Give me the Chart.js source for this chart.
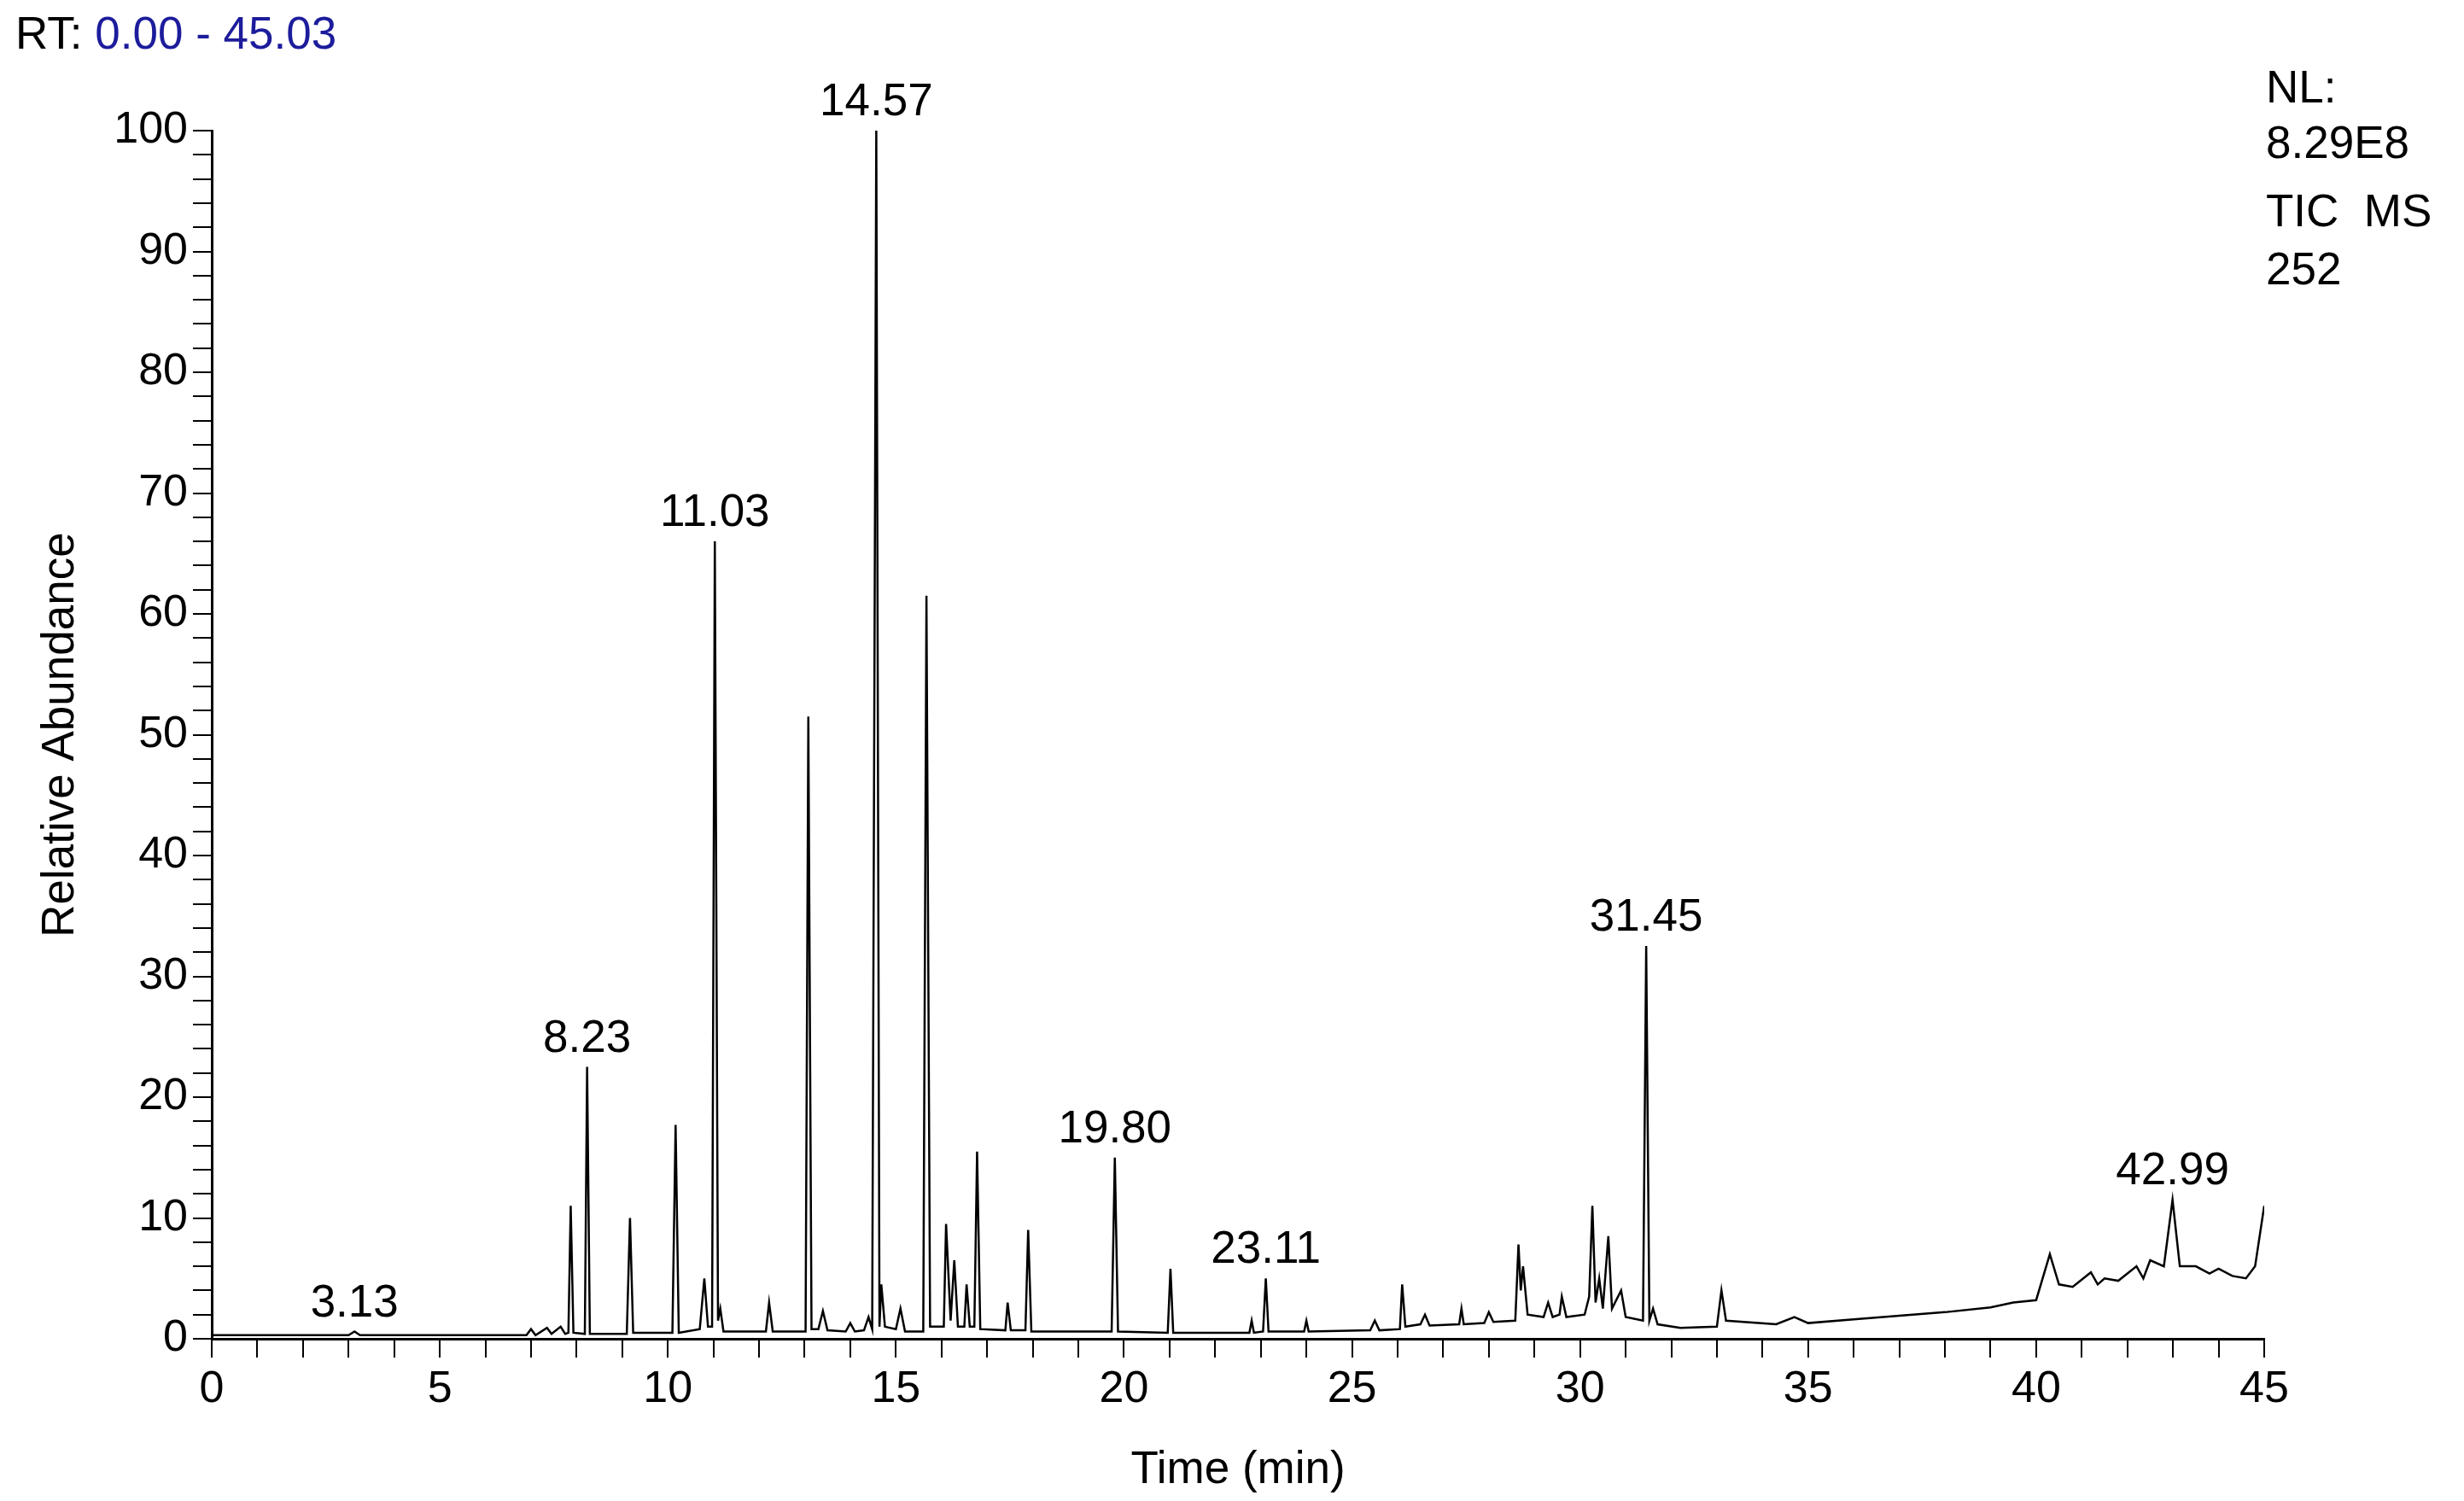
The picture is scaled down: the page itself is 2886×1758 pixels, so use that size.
<!DOCTYPE html>
<html>
<head>
<meta charset="utf-8">
<script src="https://cdn.jsdelivr.net/npm/chart.js@4/dist/chart.umd.min.js"></script>
<style>
  html, body { margin: 0; padding: 0; background: #fff; }
  canvas { display: block; }
</style>
</head>
<body>
<canvas id="tic" width="2886" height="1758"></canvas>
<script>
// retention time (min) and relative abundance (%)
const times = [0, 3.0, 3.13, 3.25, 6.9, 7.0, 7.1, 7.35, 7.45, 7.65, 7.75, 7.82, 7.87, 7.93, 8.18, 8.23, 8.29,
  9.1, 9.17, 9.24, 10.1, 10.17, 10.24, 10.7, 10.8, 10.88, 10.97, 11.03, 11.1, 11.15, 11.22, 12.15, 12.22, 12.3,
  13.02, 13.08, 13.15, 13.3, 13.4, 13.5, 13.9, 14.0, 14.1, 14.3, 14.4, 14.48, 14.57, 14.64, 14.68, 14.76,
  15.0, 15.1, 15.2, 15.6, 15.67, 15.75, 16.05, 16.1, 16.2, 16.28, 16.36, 16.5, 16.55, 16.62, 16.72, 16.78, 16.85,
  17.4, 17.45, 17.52, 17.84, 17.9, 17.97, 19.73, 19.8, 19.87, 20.96, 21.02, 21.08, 22.75, 22.8, 22.85,
  23.05, 23.11, 23.17, 23.95, 24.0, 24.05, 25.4, 25.5, 25.6, 26.05, 26.1, 26.17, 26.5, 26.6, 26.7,
  27.35, 27.4, 27.45, 27.9, 28.0, 28.1, 28.58, 28.65, 28.7, 28.75, 28.85, 29.2, 29.3, 29.4, 29.55, 29.6, 29.7,
  30.1, 30.2, 30.27, 30.34, 30.42, 30.5, 30.62, 30.7, 30.9, 31.0, 31.38, 31.45, 31.52, 31.6, 31.7, 32.2,
  33.0, 33.1, 33.2, 34.3, 34.7, 35.0, 36.0, 37.0, 38.0, 39.0, 39.5, 40.0, 40.3, 40.5, 40.8, 41.2, 41.35,
  41.5, 41.8, 42.2, 42.35, 42.5, 42.8, 42.99, 43.15, 43.5, 43.8, 44.0, 44.3, 44.6, 44.8, 45.0];
const abundance = [0.3, 0.3, 0.6, 0.3, 0.3, 0.8, 0.3, 0.9, 0.4, 1.0, 0.4, 0.5, 11, 0.5, 0.4, 22.5, 0.4,
  0.4, 10, 0.5, 0.5, 17.7, 0.5, 0.8, 5, 1, 1, 66, 1.5, 2.5, 0.6, 0.6, 3, 0.6,
  0.6, 51.5, 0.8, 0.8, 2.3, 0.7, 0.6, 1.3, 0.6, 0.7, 1.8, 0.8, 100, 1, 4.5, 1,
  0.8, 2.5, 0.6, 0.6, 61.5, 1, 1, 9.5, 1.5, 6.5, 1, 1, 4.5, 1, 1, 15.5, 0.8,
  0.7, 3, 0.7, 0.7, 9, 0.6, 0.6, 15, 0.6, 0.5, 5.8, 0.5, 0.5, 1.5, 0.5,
  0.6, 5, 0.6, 0.6, 1.5, 0.6, 0.7, 1.5, 0.7, 0.8, 4.5, 1.0, 1.2, 2, 1.1,
  1.2, 2.5, 1.2, 1.3, 2.2, 1.4, 1.5, 7.8, 4, 6, 2, 1.8, 3, 1.8, 2, 3.5, 1.8,
  2, 3.5, 11, 3, 5, 2.5, 8.5, 2.5, 4, 1.8, 1.5, 32.5, 1.5, 2.5, 1.2, 0.9,
  1.0, 4, 1.5, 1.2, 1.8, 1.3, 1.6, 1.9, 2.2, 2.6, 3.0, 3.2, 7, 4.5, 4.3, 5.5, 4.5,
  5, 4.8, 6, 5, 6.5, 6, 11.5, 6, 6, 5.4, 5.8, 5.2, 5.0, 6, 11];
// labelled peaks
const peakTimes = [3.13, 8.23, 11.03, 14.57, 19.80, 23.11, 31.45, 42.99];
const peakHeights = [0.6, 22.5, 66, 100, 15, 5, 32.5, 11.5];
const xMajor = [0, 5, 10, 15, 20, 25, 30, 35, 40, 45];
const yMajor = [0, 10, 20, 30, 40, 50, 60, 70, 80, 90, 100];

const FONT = 'Liberation Sans, Arial, sans-serif';

const textPlugin = {
  id: 'texts',
  afterDraw(chart) {
    const ctx = chart.ctx;
    const xs = chart.scales.x, ys = chart.scales.y;
    ctx.save();
    ctx.fillStyle = '#000';
    ctx.font = '53px ' + FONT;
    ctx.textAlign = 'center';
    ctx.textBaseline = 'bottom';
    peakTimes.forEach((t, i) => {
      ctx.fillText(t.toFixed(2), xs.getPixelForValue(t), ys.getPixelForValue(peakHeights[i]) - 6);
    });
    // header
    ctx.textAlign = 'left';
    ctx.textBaseline = 'middle';
    ctx.fillText('RT:', 18, 42);
    const w = ctx.measureText('RT: ').width;
    ctx.fillStyle = '#1c1c9c';
    ctx.fillText('0.00 - 45.03', 18 + w, 42);
    ctx.fillStyle = '#000';
    [['NL:', 105], ['8.29E8', 170], ['TIC  MS', 250], ['252', 318]].forEach(([s, y]) => ctx.fillText(s, 2654, y));
    ctx.restore();
  }
};

new Chart(document.getElementById('tic'), {
  type: 'line',
  data: {
    datasets: [{
      data: times.map((t, i) => ({ x: t, y: abundance[i] })),
      borderColor: '#000',
      borderWidth: 2.5,
      pointRadius: 0,
      tension: 0,
      fill: false
    }]
  },
  options: {
    responsive: false,
    devicePixelRatio: 1,
    animation: false,
    layout: { padding: { left: 0, top: 153, right: 234, bottom: 0 } },
    plugins: { legend: { display: false }, tooltip: { enabled: false } },
    scales: {
      x: {
        type: 'linear', min: 0, max: 45,
        afterFit(s) { s.height = 190; },
        afterBuildTicks(s) {
          const t = []; for (let v = 0; v <= 45; v++) t.push({ value: v }); s.ticks = t;
        },
        ticks: {
          autoSkip: false, maxRotation: 0, color: '#000', padding: 6,
          font: { family: FONT, size: 52 },
          callback: v => xMajor.includes(v) ? String(v) : ''
        },
        grid: { drawOnChartArea: false, color: '#000', tickLength: 22, lineWidth: 2 },
        border: { color: '#000', width: 3 },
        title: { display: true, text: 'Time (min)', color: '#000', font: { family: FONT, size: 53 }, padding: { top: 0 } }
      },
      y: {
        min: 0, max: 100,
        afterFit(s) { s.width = 248; },
        afterBuildTicks(s) {
          const t = []; for (let v = 0; v <= 100; v += 2) t.push({ value: v }); s.ticks = t;
        },
        ticks: {
          autoSkip: false, color: '#000', padding: 6,
          font: { family: FONT, size: 52 },
          callback: v => yMajor.includes(v) ? String(v) : ''
        },
        grid: { drawOnChartArea: false, color: '#000', tickLength: 22, lineWidth: 2 },
        border: { color: '#000', width: 3 },
        title: { display: true, text: 'Relative Abundance', color: '#000', font: { family: FONT, size: 53 }, padding: { top: 40, bottom: 0 } }
      }
    }
  },
  plugins: [textPlugin]
});
</script>
</body>
</html>
